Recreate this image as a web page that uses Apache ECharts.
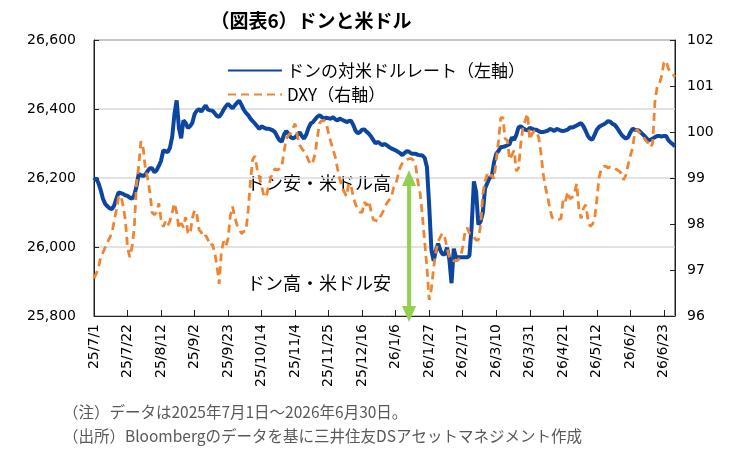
<!DOCTYPE html>
<html>
<head>
<meta charset="utf-8">
<script src="https://cdn.jsdelivr.net/npm/echarts@6/dist/echarts.min.js"></script>
<style>
  html, body { margin: 0; padding: 0; background: #fff; }
  #chart { width: 756px; height: 475px; }
</style>
</head>
<body>
<div id="chart"></div>
<script>
// ドン（VND/USD, 左軸）と DXY（右軸）、営業日ベース 2025/7/1〜2026/6/30
var vndName = 'ドンの対米ドルレート（左軸）';
var dxyName = 'DXY（右軸）';

var vnd = [
  26193, 26200, 26185, 26165, 26140, 26125, 26118, 26112, 26110, 26120, 26140, 26158, 26156, 26154, 26150,
  26148, 26143, 26140, 26150, 26175, 26212, 26208, 26206, 26210, 26220, 26228, 26228, 26217, 26222, 26235,
  26250, 26280, 26278, 26275, 26288, 26320, 26385, 26425, 26345, 26315, 26367, 26360, 26345, 26350, 26360,
  26385, 26395, 26400, 26392, 26402, 26410, 26398, 26396, 26395, 26388, 26380, 26377, 26386, 26398, 26408,
  26415, 26408, 26402, 26410, 26418, 26424, 26412, 26398, 26389, 26382, 26372, 26365, 26358, 26350, 26342,
  26350, 26346, 26343, 26343, 26341, 26338, 26333, 26320, 26310, 26305, 26325, 26336, 26328, 26318, 26315,
  26318, 26325, 26332, 26322, 26314, 26326, 26345, 26358, 26362, 26370, 26378, 26382, 26376, 26372, 26375,
  26373, 26372, 26376, 26370, 26367, 26372, 26369, 26366, 26362, 26365, 26366, 26354, 26338, 26330, 26333,
  26340, 26341, 26334, 26328, 26320, 26310, 26300, 26305, 26300, 26295, 26299, 26295, 26290, 26286, 26283,
  26280, 26276, 26272, 26266, 26273, 26278, 26276, 26271, 26270, 26270, 26267, 26266, 26265, 26258, 26231,
  26120, 25990, 25960, 25990, 26010, 25990, 25979, 25979, 25998, 25965, 25895, 25995, 25970, 25970, 25970,
  25970, 25970, 25970, 25975, 26060, 26190, 26160, 26065, 26074, 26100, 26170, 26185, 26200, 26204, 26245,
  26270, 26278, 26290, 26290, 26292, 26295, 26298, 26318, 26310, 26325, 26347, 26350, 26344, 26340, 26338,
  26345, 26343, 26340, 26340, 26336, 26333, 26333, 26335, 26337, 26342, 26340, 26336, 26342, 26340, 26337,
  26336, 26338, 26340, 26347, 26346, 26349, 26352, 26356, 26359, 26350, 26337, 26322, 26314, 26311, 26325,
  26340, 26348, 26352, 26355, 26359, 26365, 26363, 26357, 26354, 26346, 26336, 26326, 26319, 26314, 26318,
  26332, 26343, 26340, 26339, 26337, 26330, 26324, 26317, 26310, 26311, 26314, 26318, 26322, 26322, 26320,
  26322, 26322, 26310, 26303, 26298, 26292
];

var dxy = [
  96.82, 96.92, 97.05, 97.28, 97.38, 97.49, 97.6, 97.7, 97.8, 98.05, 98.3, 98.58, 98.62, 98.4, 98.1,
  97.5, 97.28, 97.5, 97.9, 98.85, 99.25, 99.8, 99.65, 99.2, 99.0, 98.68, 98.25, 98.2, 98.25, 98.45,
  98.1, 97.94, 98.05, 97.96, 98.07, 98.25, 98.45, 98.25, 97.9, 98.02, 97.93, 98.15, 97.82, 97.78, 98.12,
  98.3, 98.22, 97.88, 97.82, 97.71, 97.75, 97.66, 97.53, 97.56, 97.38, 97.1, 96.7, 97.4, 97.62, 97.52,
  97.68, 98.18, 98.38, 98.16, 97.98, 97.9, 97.79, 97.84, 97.85, 98.3, 98.92, 99.4, 99.48, 99.2, 99.02,
  98.82, 98.62, 98.58, 98.79, 98.98, 99.13, 99.2, 99.17, 99.2, 99.24, 99.56, 99.85, 99.93, 99.98, 100.08,
  100.18, 99.92, 99.72, 99.64, 99.58, 99.5, 99.38, 99.29, 99.36, 99.53, 99.9, 100.2, 100.25, 100.25, 100.2,
  99.95, 99.78, 99.62, 99.45, 99.2, 98.98, 98.8, 98.7, 98.6, 98.88, 98.84, 98.6, 98.43, 98.33, 98.26,
  98.25, 98.48, 98.4, 98.5, 98.28, 98.09, 98.08, 98.06, 98.15, 98.24, 98.34, 98.45, 98.52, 98.56, 98.78,
  98.85, 99.05, 99.23, 99.32, 99.37, 99.4, 99.42, 99.42, 99.38, 99.25, 98.9, 98.65, 98.15, 97.6, 97.05,
  96.35, 96.6, 97.05, 97.4, 97.62, 97.72, 97.8, 97.7, 97.48, 97.28, 97.2, 97.2, 97.2, 97.22, 97.28,
  97.5, 97.82, 97.92, 97.8, 97.78, 97.72, 97.65, 97.65, 97.98, 98.65, 98.93, 99.08, 99.0, 99.07, 98.98,
  99.38, 99.8, 100.3, 100.32, 99.85, 99.82, 99.4, 99.5, 99.6, 99.15, 99.22, 99.75, 100.12, 100.25, 100.4,
  99.83, 99.96, 100.02, 100.02, 99.88, 99.55, 99.1, 98.8, 98.6, 98.33, 98.14, 98.11, 98.11, 98.1, 98.12,
  98.55, 98.5, 98.7, 98.55, 98.58, 98.66, 98.88, 98.32, 98.12, 98.34, 98.42, 98.12, 97.95, 97.99, 98.1,
  98.52, 99.0, 99.2, 99.25, 99.26, 99.22, 99.24, 99.24, 99.21, 99.18, 99.15, 99.1, 98.96, 99.06, 99.28,
  99.48, 99.65, 99.98, 100.06, 99.99, 99.94, 99.88, 99.81, 99.76, 99.67, 99.75, 100.65, 100.98, 101.04, 101.22,
  101.5, 101.55, 101.38, 101.3, 101.26, 101.2
];

// 営業日（平日）の日付ラベル
var dates = [];
var d = new Date(Date.UTC(2025, 6, 1));
var end = new Date(Date.UTC(2026, 5, 30));
while (d <= end) {
  var wd = d.getUTCDay();
  if (wd !== 0 && wd !== 6) {
    dates.push((d.getUTCFullYear() % 100) + '/' + (d.getUTCMonth() + 1) + '/' + d.getUTCDate());
  }
  d.setUTCDate(d.getUTCDate() + 1);
}

// 緑の両矢印（日付インデックスと左軸の値で指定）
var arrowIdx = 141;
var arrowTop = 26200;
var arrowBottom = 25806;

var numFont = 'DejaVu Sans';
var jpFont = '"Noto Sans CJK JP", sans-serif';
var blue = '#0d46a0';
var orange = '#ef8532';
var green = '#92d050';

var chart = echarts.init(document.getElementById('chart'), null, { renderer: 'canvas' });

var option = {
  animation: false,
  backgroundColor: '#fff',
  grid: {
    left: 94, right: 81, top: 40, bottom: 159,
    show: true, borderColor: '#222', borderWidth: 1, backgroundColor: '#fff'
  },
  legend: {
    orient: 'vertical',
    left: 222, top: 57,
    itemWidth: 54, itemHeight: 14, itemGap: 7,
    itemStyle: { opacity: 0 },
    textStyle: { fontSize: 17, color: '#000', fontFamily: jpFont },
    data: [vndName, dxyName]
  },
  xAxis: {
    type: 'category',
    data: dates,
    boundaryGap: false,
    axisLine: { lineStyle: { color: '#222', width: 1 } },
    axisTick: { inside: true, length: 6, interval: 14, lineStyle: { color: '#222' } },
    axisLabel: {
      interval: 14, rotate: 90, margin: 8,
      fontSize: 14, color: '#000', fontFamily: numFont
    },
    splitLine: { show: false }
  },
  yAxis: [
    {
      type: 'value',
      min: 25800, max: 26600, interval: 200,
      axisLine: { show: true, lineStyle: { color: '#222' } },
      axisTick: { show: true, inside: true, length: 5, lineStyle: { color: '#222' } },
      axisLabel: {
        margin: 18, fontSize: 14, color: '#000', fontFamily: numFont,
        formatter: function (v) { return v.toLocaleString('en-US'); }
      },
      splitLine: { lineStyle: { color: '#d9d9d9', width: 1.5 } }
    },
    {
      type: 'value',
      position: 'right',
      min: 96, max: 102, interval: 1,
      axisLine: { show: true, lineStyle: { color: '#222' } },
      axisTick: { show: true, inside: true, length: 5, lineStyle: { color: '#222' } },
      axisLabel: { margin: 12, fontSize: 14, color: '#000', fontFamily: numFont },
      splitLine: { show: false }
    }
  ],
  series: [
    {
      name: vndName,
      type: 'line',
      yAxisIndex: 0,
      data: vnd,
      symbol: 'none',
      lineStyle: { color: blue, width: 4 },
      itemStyle: { color: blue },
      z: 2
    },
    {
      name: dxyName,
      type: 'line',
      yAxisIndex: 1,
      data: dxy,
      symbol: 'none',
      lineStyle: { color: orange, width: 2.8, type: [8, 5] },
      itemStyle: { color: orange },
      z: 3
    },
    {
      name: 'arrow',
      type: 'line',
      yAxisIndex: 0,
      clip: false,
      silent: true,
      showSymbol: true,
      showAllSymbol: true,
      symbol: 'triangle',
      symbolSize: [14, 16],
      lineStyle: { color: green, width: 4 },
      itemStyle: { color: green, opacity: 1 },
      emphasis: { disabled: true },
      z: 4,
      data: [
        { value: [arrowIdx, arrowTop], symbolRotate: 0 },
        { value: [arrowIdx, arrowBottom], symbolRotate: 180 }
      ]
    }
  ],
  graphic: [
    {
      type: 'text', x: 311, y: 11,
      style: {
        text: '（図表6）ドンと米ドル', textAlign: 'center',
        font: 'bold 19px "Noto Sans CJK JP"', fill: '#000'
      }
    },
    {
      type: 'text', x: 247, y: 174,
      style: { text: 'ドン安・米ドル高', font: '18px "Noto Sans CJK JP"', fill: '#000' }
    },
    {
      type: 'text', x: 247, y: 274,
      style: { text: 'ドン高・米ドル安', font: '18px "Noto Sans CJK JP"', fill: '#000' }
    },
    {
      type: 'text', x: 63, y: 404,
      style: { text: '（注）データは2025年7月1日～2026年6月30日。', font: '15.5px "Noto Sans CJK JP"', fill: '#595959' }
    },
    {
      type: 'text', x: 63, y: 428,
      style: { text: '（出所）Bloombergのデータを基に三井住友DSアセットマネジメント作成', font: '15.5px "Noto Sans CJK JP"', fill: '#595959' }
    }
  ]
};

chart.setOption(option);
</script>
</body>
</html>
